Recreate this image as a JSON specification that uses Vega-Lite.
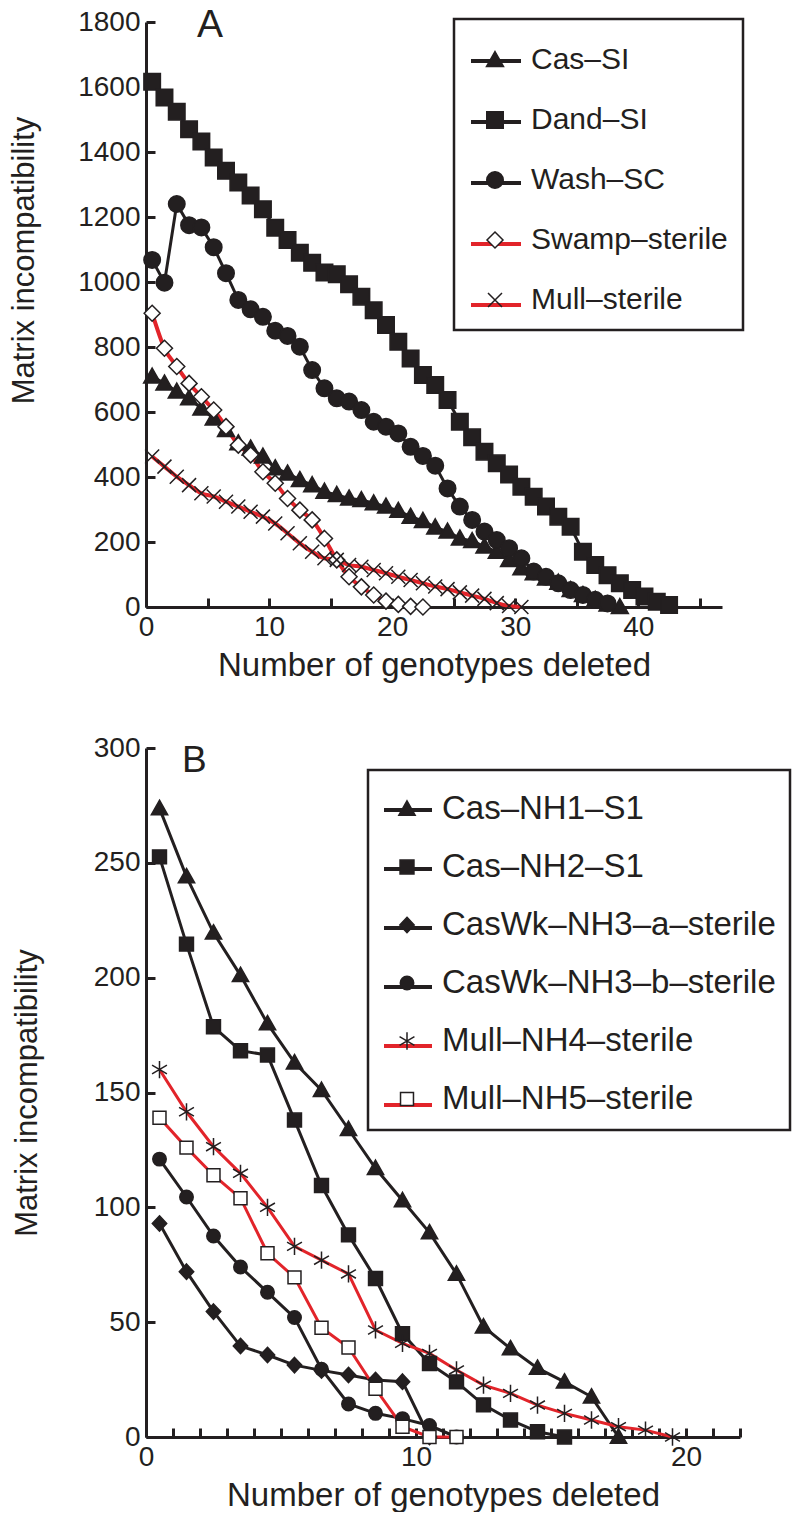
{
  "$schema": "https://vega.github.io/schema/vega-lite/v6.json",
  "background": "white",
  "padding": {"left": 8, "top": 6, "right": 0, "bottom": 0},
  "spacing": 52,
  "columns": 1,
  "align": "none",
  "config": {
    "view": {"stroke": null},
    "font": "Liberation Sans",
    "axis": {
      "domainColor": "#231f20", "domainWidth": 3, "tickColor": "#231f20", "tickWidth": 3,
      "tickSize": -9, "labelPadding": 15, "labelFontSize": 28, "labelColor": "#231f20",
      "labelFont": "Liberation Sans", "titleFont": "Liberation Sans", "titleFontSize": 33,
      "titleFontWeight": "normal", "titleColor": "#231f20", "grid": false,
      "labelFlush": false, "labelOverlap": false
    },
    "legend": {
      "labelFont": "Liberation Sans", "labelColor": "#231f20", "labelFontSize": 30, "labelLimit": 0,
      "labelOffset": 10, "direction": "vertical", "columns": 1, "symbolOpacity": 1
    }
  },
  "resolve": {
    "scale": {"stroke": "independent", "shape": "independent", "fill": "independent"},
    "legend": {"stroke": "independent", "shape": "independent", "fill": "independent"}
  },
  "datasets": {
    "a": [
      {"s":"Cas–SI","x":0.5,"y":709},{"s":"Cas–SI","x":1.5,"y":688},{"s":"Cas–SI","x":2.5,"y":663},{"s":"Cas–SI","x":3.5,"y":642},{"s":"Cas–SI","x":4.5,"y":611},{"s":"Cas–SI","x":5.5,"y":580},{"s":"Cas–SI","x":6.5,"y":545},{"s":"Cas–SI","x":7.5,"y":504},{"s":"Cas–SI","x":8.5,"y":488},{"s":"Cas–SI","x":9.5,"y":463},{"s":"Cas–SI","x":10.5,"y":427},{"s":"Cas–SI","x":11.5,"y":411},{"s":"Cas–SI","x":12.5,"y":391},{"s":"Cas–SI","x":13.5,"y":375},{"s":"Cas–SI","x":14.5,"y":355},{"s":"Cas–SI","x":15.5,"y":345},{"s":"Cas–SI","x":16.5,"y":334},{"s":"Cas–SI","x":17.5,"y":329},{"s":"Cas–SI","x":18.5,"y":319},{"s":"Cas–SI","x":19.5,"y":309},{"s":"Cas–SI","x":20.5,"y":296},{"s":"Cas–SI","x":21.5,"y":278},{"s":"Cas–SI","x":22.5,"y":265},{"s":"Cas–SI","x":23.5,"y":245},{"s":"Cas–SI","x":24.5,"y":232},{"s":"Cas–SI","x":25.5,"y":211},{"s":"Cas–SI","x":26.5,"y":203},{"s":"Cas–SI","x":27.5,"y":186},{"s":"Cas–SI","x":28.5,"y":170},{"s":"Cas–SI","x":29.5,"y":145},{"s":"Cas–SI","x":30.5,"y":119},{"s":"Cas–SI","x":31.5,"y":104},{"s":"Cas–SI","x":32.5,"y":88},{"s":"Cas–SI","x":33.5,"y":75},{"s":"Cas–SI","x":34.5,"y":52},{"s":"Cas–SI","x":35.5,"y":37},{"s":"Cas–SI","x":36.5,"y":22},{"s":"Cas–SI","x":37.5,"y":8},{"s":"Cas–SI","x":38.5,"y":0},
      {"s":"Dand–SI","x":0.5,"y":1616},{"s":"Dand–SI","x":1.5,"y":1568},{"s":"Dand–SI","x":2.5,"y":1524},{"s":"Dand–SI","x":3.5,"y":1470},{"s":"Dand–SI","x":4.5,"y":1432},{"s":"Dand–SI","x":5.5,"y":1383},{"s":"Dand–SI","x":6.5,"y":1342},{"s":"Dand–SI","x":7.5,"y":1306},{"s":"Dand–SI","x":8.5,"y":1266},{"s":"Dand–SI","x":9.5,"y":1224},{"s":"Dand–SI","x":10.5,"y":1167},{"s":"Dand–SI","x":11.5,"y":1129},{"s":"Dand–SI","x":12.5,"y":1090},{"s":"Dand–SI","x":13.5,"y":1059},{"s":"Dand–SI","x":14.5,"y":1029},{"s":"Dand–SI","x":15.5,"y":1024},{"s":"Dand–SI","x":16.5,"y":993},{"s":"Dand–SI","x":17.5,"y":955},{"s":"Dand–SI","x":18.5,"y":913},{"s":"Dand–SI","x":19.5,"y":868},{"s":"Dand–SI","x":20.5,"y":816},{"s":"Dand–SI","x":21.5,"y":765},{"s":"Dand–SI","x":22.5,"y":714},{"s":"Dand–SI","x":23.5,"y":683},{"s":"Dand–SI","x":24.5,"y":637},{"s":"Dand–SI","x":25.5,"y":570},{"s":"Dand–SI","x":26.5,"y":522},{"s":"Dand–SI","x":27.5,"y":478},{"s":"Dand–SI","x":28.5,"y":442},{"s":"Dand–SI","x":29.5,"y":408},{"s":"Dand–SI","x":30.5,"y":370},{"s":"Dand–SI","x":31.5,"y":339},{"s":"Dand–SI","x":32.5,"y":309},{"s":"Dand–SI","x":33.5,"y":278},{"s":"Dand–SI","x":34.5,"y":247},{"s":"Dand–SI","x":35.5,"y":170},{"s":"Dand–SI","x":36.5,"y":129},{"s":"Dand–SI","x":37.5,"y":98},{"s":"Dand–SI","x":38.5,"y":73},{"s":"Dand–SI","x":39.5,"y":52},{"s":"Dand–SI","x":40.5,"y":32},{"s":"Dand–SI","x":41.5,"y":16},{"s":"Dand–SI","x":42.5,"y":6},
      {"s":"Wash–SC","x":0.5,"y":1068},{"s":"Wash–SC","x":1.5,"y":998},{"s":"Wash–SC","x":2.5,"y":1240},{"s":"Wash–SC","x":3.5,"y":1175},{"s":"Wash–SC","x":4.5,"y":1168},{"s":"Wash–SC","x":5.5,"y":1107},{"s":"Wash–SC","x":6.5,"y":1027},{"s":"Wash–SC","x":7.5,"y":945},{"s":"Wash–SC","x":8.5,"y":916},{"s":"Wash–SC","x":9.5,"y":893},{"s":"Wash–SC","x":10.5,"y":850},{"s":"Wash–SC","x":11.5,"y":834},{"s":"Wash–SC","x":12.5,"y":801},{"s":"Wash–SC","x":13.5,"y":729},{"s":"Wash–SC","x":14.5,"y":673},{"s":"Wash–SC","x":15.5,"y":642},{"s":"Wash–SC","x":16.5,"y":632},{"s":"Wash–SC","x":17.5,"y":606},{"s":"Wash–SC","x":18.5,"y":570},{"s":"Wash–SC","x":19.5,"y":555},{"s":"Wash–SC","x":20.5,"y":534},{"s":"Wash–SC","x":21.5,"y":493},{"s":"Wash–SC","x":22.5,"y":465},{"s":"Wash–SC","x":23.5,"y":435},{"s":"Wash–SC","x":24.5,"y":365},{"s":"Wash–SC","x":25.5,"y":309},{"s":"Wash–SC","x":26.5,"y":268},{"s":"Wash–SC","x":27.5,"y":232},{"s":"Wash–SC","x":28.5,"y":206},{"s":"Wash–SC","x":29.5,"y":181},{"s":"Wash–SC","x":30.5,"y":150},{"s":"Wash–SC","x":31.5,"y":109},{"s":"Wash–SC","x":32.5,"y":93},{"s":"Wash–SC","x":33.5,"y":73},{"s":"Wash–SC","x":34.5,"y":52},{"s":"Wash–SC","x":35.5,"y":37},{"s":"Wash–SC","x":36.5,"y":22},{"s":"Wash–SC","x":37.5,"y":11},
      {"s":"Swamp–sterile","x":0.5,"y":904},{"s":"Swamp–sterile","x":1.5,"y":796},{"s":"Swamp–sterile","x":2.5,"y":740},{"s":"Swamp–sterile","x":3.5,"y":688},{"s":"Swamp–sterile","x":4.5,"y":647},{"s":"Swamp–sterile","x":5.5,"y":606},{"s":"Swamp–sterile","x":6.5,"y":555},{"s":"Swamp–sterile","x":7.5,"y":498},{"s":"Swamp–sterile","x":8.5,"y":468},{"s":"Swamp–sterile","x":9.5,"y":416},{"s":"Swamp–sterile","x":10.5,"y":381},{"s":"Swamp–sterile","x":11.5,"y":334},{"s":"Swamp–sterile","x":12.5,"y":298},{"s":"Swamp–sterile","x":13.5,"y":268},{"s":"Swamp–sterile","x":14.5,"y":211},{"s":"Swamp–sterile","x":15.5,"y":145},{"s":"Swamp–sterile","x":16.5,"y":93},{"s":"Swamp–sterile","x":17.5,"y":62},{"s":"Swamp–sterile","x":18.5,"y":37},{"s":"Swamp–sterile","x":19.5,"y":18},{"s":"Swamp–sterile","x":20.5,"y":8},{"s":"Swamp–sterile","x":21.5,"y":2},{"s":"Swamp–sterile","x":22.5,"y":0},
      {"s":"Mull–sterile","x":0.5,"y":463},{"s":"Mull–sterile","x":1.5,"y":432},{"s":"Mull–sterile","x":2.5,"y":401},{"s":"Mull–sterile","x":3.5,"y":375},{"s":"Mull–sterile","x":4.5,"y":350},{"s":"Mull–sterile","x":5.5,"y":340},{"s":"Mull–sterile","x":6.5,"y":324},{"s":"Mull–sterile","x":7.5,"y":309},{"s":"Mull–sterile","x":8.5,"y":293},{"s":"Mull–sterile","x":9.5,"y":278},{"s":"Mull–sterile","x":10.5,"y":257},{"s":"Mull–sterile","x":11.5,"y":227},{"s":"Mull–sterile","x":12.5,"y":196},{"s":"Mull–sterile","x":13.5,"y":170},{"s":"Mull–sterile","x":14.5,"y":150},{"s":"Mull–sterile","x":15.5,"y":145},{"s":"Mull–sterile","x":16.5,"y":129},{"s":"Mull–sterile","x":17.5,"y":124},{"s":"Mull–sterile","x":18.5,"y":114},{"s":"Mull–sterile","x":19.5,"y":104},{"s":"Mull–sterile","x":20.5,"y":93},{"s":"Mull–sterile","x":21.5,"y":83},{"s":"Mull–sterile","x":22.5,"y":73},{"s":"Mull–sterile","x":23.5,"y":63},{"s":"Mull–sterile","x":24.5,"y":55},{"s":"Mull–sterile","x":25.5,"y":45},{"s":"Mull–sterile","x":26.5,"y":35},{"s":"Mull–sterile","x":27.5,"y":25},{"s":"Mull–sterile","x":28.5,"y":12},{"s":"Mull–sterile","x":29.5,"y":3},{"s":"Mull–sterile","x":30.5,"y":0}
    ],
    "b": [
      {"s":"Cas–NH1–S1","x":0.5,"y":273.7},{"s":"Cas–NH1–S1","x":1.5,"y":244},{"s":"Cas–NH1–S1","x":2.5,"y":219.5},{"s":"Cas–NH1–S1","x":3.5,"y":201},{"s":"Cas–NH1–S1","x":4.5,"y":180},{"s":"Cas–NH1–S1","x":5.5,"y":163},{"s":"Cas–NH1–S1","x":6.5,"y":151},{"s":"Cas–NH1–S1","x":7.5,"y":134},{"s":"Cas–NH1–S1","x":8.5,"y":117},{"s":"Cas–NH1–S1","x":9.5,"y":103},{"s":"Cas–NH1–S1","x":10.5,"y":89},{"s":"Cas–NH1–S1","x":11.5,"y":71},{"s":"Cas–NH1–S1","x":12.5,"y":48},{"s":"Cas–NH1–S1","x":13.5,"y":38.5},{"s":"Cas–NH1–S1","x":14.5,"y":30},{"s":"Cas–NH1–S1","x":15.5,"y":24},{"s":"Cas–NH1–S1","x":16.5,"y":17.5},{"s":"Cas–NH1–S1","x":17.5,"y":0},
      {"s":"Cas–NH2–S1","x":0.5,"y":252.6},{"s":"Cas–NH2–S1","x":1.5,"y":214.6},{"s":"Cas–NH2–S1","x":2.5,"y":178.6},{"s":"Cas–NH2–S1","x":3.5,"y":168.2},{"s":"Cas–NH2–S1","x":4.5,"y":166.3},{"s":"Cas–NH2–S1","x":5.5,"y":138},{"s":"Cas–NH2–S1","x":6.5,"y":109.5},{"s":"Cas–NH2–S1","x":7.5,"y":88},{"s":"Cas–NH2–S1","x":8.5,"y":69},{"s":"Cas–NH2–S1","x":9.5,"y":45},{"s":"Cas–NH2–S1","x":10.5,"y":32},{"s":"Cas–NH2–S1","x":11.5,"y":24},{"s":"Cas–NH2–S1","x":12.5,"y":14},{"s":"Cas–NH2–S1","x":13.5,"y":7.4},{"s":"Cas–NH2–S1","x":14.5,"y":2.3},{"s":"Cas–NH2–S1","x":15.5,"y":0},
      {"s":"CasWk–NH3–a–sterile","x":0.5,"y":93},{"s":"CasWk–NH3–a–sterile","x":1.5,"y":72},{"s":"CasWk–NH3–a–sterile","x":2.5,"y":54.6},{"s":"CasWk–NH3–a–sterile","x":3.5,"y":39.6},{"s":"CasWk–NH3–a–sterile","x":4.5,"y":35.7},{"s":"CasWk–NH3–a–sterile","x":5.5,"y":31.3},{"s":"CasWk–NH3–a–sterile","x":6.5,"y":29},{"s":"CasWk–NH3–a–sterile","x":7.5,"y":27},{"s":"CasWk–NH3–a–sterile","x":8.5,"y":24.8},{"s":"CasWk–NH3–a–sterile","x":9.5,"y":24.1},{"s":"CasWk–NH3–a–sterile","x":10.5,"y":0},
      {"s":"CasWk–NH3–b–sterile","x":0.5,"y":121},{"s":"CasWk–NH3–b–sterile","x":1.5,"y":104.5},{"s":"CasWk–NH3–b–sterile","x":2.5,"y":87.5},{"s":"CasWk–NH3–b–sterile","x":3.5,"y":74},{"s":"CasWk–NH3–b–sterile","x":4.5,"y":63},{"s":"CasWk–NH3–b–sterile","x":5.5,"y":52},{"s":"CasWk–NH3–b–sterile","x":6.5,"y":29.5},{"s":"CasWk–NH3–b–sterile","x":7.5,"y":14.4},{"s":"CasWk–NH3–b–sterile","x":8.5,"y":10.3},{"s":"CasWk–NH3–b–sterile","x":9.5,"y":8},{"s":"CasWk–NH3–b–sterile","x":10.5,"y":5},{"s":"CasWk–NH3–b–sterile","x":11.5,"y":0},
      {"s":"Mull–NH4–sterile","x":0.5,"y":160},{"s":"Mull–NH4–sterile","x":1.5,"y":141.6},{"s":"Mull–NH4–sterile","x":2.5,"y":126.4},{"s":"Mull–NH4–sterile","x":3.5,"y":114.8},{"s":"Mull–NH4–sterile","x":4.5,"y":100},{"s":"Mull–NH4–sterile","x":5.5,"y":83},{"s":"Mull–NH4–sterile","x":6.5,"y":77},{"s":"Mull–NH4–sterile","x":7.5,"y":71},{"s":"Mull–NH4–sterile","x":8.5,"y":46.6},{"s":"Mull–NH4–sterile","x":9.5,"y":40.8},{"s":"Mull–NH4–sterile","x":10.5,"y":36.4},{"s":"Mull–NH4–sterile","x":11.5,"y":29.2},{"s":"Mull–NH4–sterile","x":12.5,"y":22.6},{"s":"Mull–NH4–sterile","x":13.5,"y":19},{"s":"Mull–NH4–sterile","x":14.5,"y":13.9},{"s":"Mull–NH4–sterile","x":15.5,"y":10.3},{"s":"Mull–NH4–sterile","x":16.5,"y":7.4},{"s":"Mull–NH4–sterile","x":17.5,"y":4.5},{"s":"Mull–NH4–sterile","x":18.5,"y":3},{"s":"Mull–NH4–sterile","x":19.5,"y":0},
      {"s":"Mull–NH5–sterile","x":0.5,"y":139},{"s":"Mull–NH5–sterile","x":1.5,"y":126},{"s":"Mull–NH5–sterile","x":2.5,"y":114},{"s":"Mull–NH5–sterile","x":3.5,"y":104},{"s":"Mull–NH5–sterile","x":4.5,"y":80},{"s":"Mull–NH5–sterile","x":5.5,"y":69.5},{"s":"Mull–NH5–sterile","x":6.5,"y":47.6},{"s":"Mull–NH5–sterile","x":7.5,"y":39},{"s":"Mull–NH5–sterile","x":8.5,"y":21},{"s":"Mull–NH5–sterile","x":9.5,"y":4.5},{"s":"Mull–NH5–sterile","x":10.5,"y":0},{"s":"Mull–NH5–sterile","x":11.5,"y":0}
    ]
  },
  "concat": [
    {
      "width": 576,
      "height": 585,
      "title": {"text": "A", "anchor": "start", "frame": "group", "dx": 51, "dy": 54, "offset": -14, "baseline": "alphabetic", "fontSize": 39, "fontWeight": "normal", "font": "Liberation Sans", "color": "#231f20"},
      "data": {"name": "a"},
      "encoding": {
        "x": {"field": "x", "type": "quantitative", "scale": {"domain": [0, 46.8], "nice": false},
              "axis": {"title": "Number of genotypes deleted", "values": [0,5,10,15,20,25,30,35,40,45], "labelExpr": "datum.value % 10 === 0 ? datum.label : ''", "titlePadding": 8}},
        "y": {"field": "y", "type": "quantitative", "scale": {"domain": [0, 1800], "nice": false},
              "axis": {"title": "Matrix incompatibility", "format": "d", "values": [0,200,400,600,800,1000,1200,1400,1600,1800], "titlePadding": 37, "titleY": 238, "titleFontSize": 31}}
      },
      "layer": [
        {
          "transform": [{"filter": "indexof(datum.s, 'sterile') < 0"}],
          "mark": {"type": "line", "strokeWidth": 3, "interpolate": "linear"},
          "encoding": {
            "order": {"field": "x", "type": "quantitative"},
            "stroke": {"field": "s", "type": "nominal",
              "scale": {"domain": ["Mull–sterile","Swamp–sterile","Wash–SC","Dand–SI","Cas–SI"], "range": ["#e2242a","#e2242a","#231f20","#231f20","#231f20"]},
              "legend": {"orient": "none", "legendX": 308, "legendY": -3, "title": null, "values": ["Cas–SI","Dand–SI","Wash–SC","Swamp–sterile","Mull–sterile"],
                "symbolType": "M-1,0H1", "symbolSize": 2500, "symbolStrokeWidth": 4, "labelExpr": "''", "padding": 15, "rowPadding": 19, "zindex": 0,
                "encode": {"symbols": {"update": {"stroke": {"signal": "indexof(datum.value, 'sterile') >= 0 ? '#e2242a' : '#231f20'"}, "fill": {"value": "transparent"}}}}}
            }
          }
        },
        {
          "transform": [{"filter": "indexof(datum.s, 'sterile') >= 0"}],
          "mark": {"type": "line", "strokeWidth": 4, "interpolate": "monotone"},
          "encoding": {
            "order": {"field": "x", "type": "quantitative"},
            "stroke": {"field": "s", "type": "nominal"}
          }
        },
        {
          "mark": {"type": "point", "filled": true, "size": 2500, "opacity": 1, "stroke": "#231f20", "strokeWidth": 1.5},
          "encoding": {
            "shape": {"field": "s", "type": "nominal",
              "scale": {"domain": ["Cas–SI","Dand–SI","Wash–SC","Swamp–sterile","Mull–sterile"],
                "range": ["M0,-0.34L0.34,0.26L-0.34,0.26Z", "M-0.33,-0.33H0.33V0.33H-0.33Z", "M0.33,0A0.33,0.33,0,1,1,-0.33,0A0.33,0.33,0,1,1,0.33,0Z", "M0,-0.32L0.32,0L0,0.32L-0.32,0Z", "M-0.28,-0.28L0.28,0.28M-0.28,0.28L0.28,-0.28"]},
              "legend": {"orient": "none", "legendX": 308, "legendY": -3, "title": null, "symbolSize": 2500, "symbolStrokeColor": "#231f20", "symbolStrokeWidth": 1.5,
                "padding": 15, "rowPadding": 19, "zindex": 1,
                "encode": {"legend": {"update": {"stroke": {"value": "#231f20"}, "strokeWidth": {"value": 2.5}}}}}
            },
            "fill": {"field": "s", "type": "nominal",
              "scale": {"domain": ["Cas–SI","Dand–SI","Wash–SC","Swamp–sterile","Mull–sterile"], "range": ["#231f20","#231f20","#231f20","#ffffff","#231f20"]},
              "legend": {"orient": "none", "legendX": 308, "legendY": -3, "title": null, "symbolSize": 2500, "symbolStrokeColor": "#231f20", "symbolStrokeWidth": 1.5,
                "padding": 15, "rowPadding": 19, "zindex": 1,
                "encode": {"legend": {"update": {"stroke": {"value": "#231f20"}, "strokeWidth": {"value": 2.5}}}}}
            }
          }
        }
      ]
    },
    {
      "width": 594,
      "height": 689,
      "title": {"text": "B", "anchor": "start", "frame": "group", "dx": 36, "dy": 51, "offset": -24, "baseline": "alphabetic", "fontSize": 37, "fontWeight": "normal", "font": "Liberation Sans", "color": "#231f20"},
      "data": {"name": "b"},
      "encoding": {
        "x": {"field": "x", "type": "quantitative", "scale": {"domain": [0, 22], "nice": false},
              "axis": {"title": "Number of genotypes deleted", "values": [0,1,2,3,4,5,6,7,8,9,10,11,12,13,14,15,16,17,18,19,20,21,22], "labelExpr": "datum.value % 10 === 0 ? datum.label : ''", "titlePadding": 8}},
        "y": {"field": "y", "type": "quantitative", "scale": {"domain": [0, 300], "nice": false},
              "axis": {"title": "Matrix incompatibility", "format": "d", "values": [0,50,100,150,200,250,300], "titlePadding": 50, "titleFontSize": 31}}
      },
      "layer": [
        {
          "mark": {"type": "line", "strokeWidth": 3, "interpolate": "linear"},
          "encoding": {
            "order": {"field": "x", "type": "quantitative"},
            "stroke": {"field": "s", "type": "nominal",
              "scale": {"domain": ["Mull–NH5–sterile","Mull–NH4–sterile","CasWk–NH3–b–sterile","CasWk–NH3–a–sterile","Cas–NH2–S1","Cas–NH1–S1"], "range": ["#e2242a","#e2242a","#231f20","#231f20","#231f20","#231f20"]},
              "legend": {"orient": "none", "legendX": 222, "legendY": 22, "title": null, "values": ["Cas–NH1–S1","Cas–NH2–S1","CasWk–NH3–a–sterile","CasWk–NH3–b–sterile","Mull–NH4–sterile","Mull–NH5–sterile"],
                "symbolType": "M-1,0H1", "symbolSize": 2304, "symbolStrokeWidth": 4, "labelExpr": "''", "padding": 14, "rowPadding": 16, "labelFontSize": 33, "zindex": 0,
                "encode": {"symbols": {"update": {"stroke": {"signal": "indexof(datum.value, 'sterile') >= 0 ? '#e2242a' : '#231f20'"}, "fill": {"value": "transparent"}}}}}
            }
          }
        },
        {
          "mark": {"type": "point", "filled": true, "size": 2304, "opacity": 1, "stroke": "#231f20", "strokeWidth": 1.5},
          "encoding": {
            "shape": {"field": "s", "type": "nominal",
              "scale": {"domain": ["Cas–NH1–S1","Cas–NH2–S1","CasWk–NH3–a–sterile","CasWk–NH3–b–sterile","Mull–NH4–sterile","Mull–NH5–sterile"],
                "range": ["M0,-0.34L0.34,0.26L-0.34,0.26Z", "M-0.29,-0.29H0.29V0.29H-0.29Z", "M0,-0.32L0.3,0L0,0.32L-0.3,0Z", "M0.28,0A0.28,0.28,0,1,1,-0.28,0A0.28,0.28,0,1,1,0.28,0Z", "M0,-0.36V0.36M-0.31,-0.18L0.31,0.18M-0.31,0.18L0.31,-0.18", "M-0.27,-0.27H0.27V0.27H-0.27Z"]},
              "legend": {"orient": "none", "legendX": 222, "legendY": 22, "title": null, "symbolSize": 2304, "symbolStrokeColor": "#231f20", "symbolStrokeWidth": 1.5,
                "padding": 14, "rowPadding": 16, "labelFontSize": 33, "zindex": 1,
                "encode": {"legend": {"update": {"stroke": {"value": "#231f20"}, "strokeWidth": {"value": 2.5}}}}}
            },
            "fill": {"field": "s", "type": "nominal",
              "scale": {"domain": ["Cas–NH1–S1","Cas–NH2–S1","CasWk–NH3–a–sterile","CasWk–NH3–b–sterile","Mull–NH4–sterile","Mull–NH5–sterile"], "range": ["#231f20","#231f20","#231f20","#231f20","#231f20","#ffffff"]},
              "legend": {"orient": "none", "legendX": 222, "legendY": 22, "title": null, "symbolSize": 2304, "symbolStrokeColor": "#231f20", "symbolStrokeWidth": 1.5,
                "padding": 14, "rowPadding": 16, "labelFontSize": 33, "zindex": 1,
                "encode": {"legend": {"update": {"stroke": {"value": "#231f20"}, "strokeWidth": {"value": 2.5}}}}}
            }
          }
        }
      ]
    }
  ]
}
